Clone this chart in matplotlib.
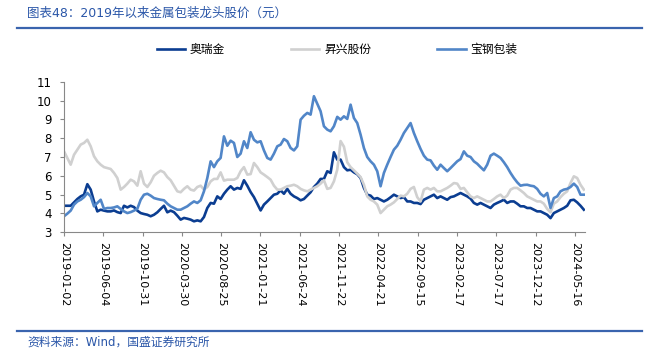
import matplotlib
matplotlib.use('Agg')
import matplotlib.pyplot as plt
import numpy as np

plt.rcParams['font.family'] = ['DejaVu Sans', 'Noto Sans CJK SC']

# share prices (yuan), sampled roughly every 8-9 trading days from 2019-01-02
aoruijin = [
    4.40, 4.40, 4.40, 4.58, 4.76, 4.90, 4.99, 5.55, 5.26, 4.63,
    4.10, 4.19, 4.14, 4.10, 4.10, 4.15, 4.06, 4.01, 4.40, 4.31,
    4.40, 4.33, 4.14, 4.01, 3.96, 3.92, 3.84, 3.92, 4.05, 4.23,
    4.40, 4.05, 4.14, 4.06, 3.87, 3.66, 3.75, 3.71, 3.66, 3.57,
    3.62, 3.57, 3.80, 4.28, 4.55, 4.51, 4.90, 4.76, 5.04, 5.26,
    5.44, 5.26, 5.35, 5.30, 5.76, 5.47, 5.13, 4.86, 4.51, 4.15,
    4.46, 4.63, 4.81, 4.99, 5.04, 5.22, 5.04, 5.30, 5.04, 4.90,
    4.81, 4.69, 4.76, 4.94, 5.12, 5.40, 5.58, 5.83, 5.83,
    6.24, 6.15, 7.25, 6.86, 6.86, 6.46, 6.29, 6.32, 6.18, 6.08,
    5.88, 5.35, 4.99, 4.94, 4.76, 4.81, 4.72, 4.63, 4.72, 4.85,
    4.99, 4.90, 4.81, 4.86, 4.63, 4.63, 4.55, 4.55, 4.49, 4.72,
    4.81, 4.90, 4.99, 4.81, 4.90, 4.81, 4.72, 4.86, 4.90,
    4.99, 5.08, 4.99, 4.90, 4.78, 4.55, 4.46, 4.55, 4.46, 4.37,
    4.28, 4.46, 4.55, 4.63, 4.72, 4.55, 4.63, 4.63, 4.51, 4.37,
    4.37, 4.28, 4.28, 4.19, 4.10, 4.10, 4.01, 3.92, 3.74, 4.01,
    4.10, 4.19, 4.28, 4.40, 4.69, 4.72, 4.58, 4.40, 4.19,
]
shengxing = [
    7.30, 6.95, 6.59, 7.12, 7.39, 7.66, 7.75, 7.92, 7.57, 7.04,
    6.77, 6.59, 6.46, 6.41, 6.36, 6.15, 5.88, 5.26, 5.40, 5.58,
    5.79, 5.70, 5.47, 6.24, 5.58, 5.40, 5.65, 6.00, 6.15, 6.27,
    6.18, 5.93, 5.76, 5.47, 5.17, 5.12, 5.30, 5.44, 5.26, 5.21,
    5.40, 5.47, 5.26, 5.40, 5.70, 5.83, 5.83, 6.18, 5.74, 5.79,
    5.79, 5.79, 5.88, 6.24, 6.46, 6.06, 6.09, 6.68, 6.46, 6.18,
    6.06, 5.93, 5.79, 5.47, 5.26, 5.26, 5.35, 5.44, 5.47, 5.52,
    5.44, 5.30, 5.22, 5.17, 5.26, 5.35, 5.44, 5.58, 5.76,
    5.30, 5.35, 5.70, 6.32, 7.85, 7.55, 6.72, 6.46, 6.29, 6.11,
    5.93, 5.52, 4.90, 4.72, 4.63, 4.46, 4.01, 4.19, 4.37, 4.46,
    4.58, 4.76, 4.94, 4.90, 5.04, 5.30, 5.40, 4.86, 4.63, 5.26,
    5.35, 5.26, 5.35, 5.17, 5.17, 5.26, 5.35, 5.47, 5.61,
    5.58, 5.30, 5.35, 5.12, 4.90, 4.81, 4.90, 4.81, 4.72, 4.63,
    4.63, 4.76, 4.90, 4.99, 4.81, 4.94, 5.26, 5.35, 5.35, 5.22,
    5.08, 4.90, 4.81, 4.72, 4.63, 4.63, 4.51, 4.23, 4.05, 4.51,
    4.63, 4.86, 5.04, 5.17, 5.61, 5.97, 5.88, 5.52, 5.26,
]
baogang = [
    3.84, 3.98, 4.14, 4.46, 4.63, 4.72, 4.86, 5.08, 4.90, 4.37,
    4.55, 4.72, 4.23, 4.28, 4.28, 4.31, 4.37, 4.23, 4.10, 4.01,
    4.06, 4.14, 4.24, 4.72, 4.99, 5.04, 4.94, 4.81, 4.76, 4.72,
    4.69, 4.51, 4.37, 4.28, 4.19, 4.19, 4.28, 4.37, 4.51, 4.63,
    4.55, 4.69, 5.17, 5.88, 6.77, 6.46, 6.77, 6.95, 8.10, 7.60,
    7.87, 7.75, 7.00, 7.18, 7.84, 7.48, 8.32, 7.92, 7.78, 7.84,
    7.35, 6.95, 6.86, 7.18, 7.57, 7.66, 7.96, 7.84, 7.48, 7.35,
    7.57, 8.99, 9.20, 9.35, 9.26, 10.24, 9.84, 9.44, 8.64,
    8.46, 8.37, 8.64, 9.14, 8.99, 9.17, 9.03, 9.79, 9.08, 8.81,
    8.19, 7.48, 7.00, 6.77, 6.59, 6.24, 5.44, 6.15, 6.59, 7.00,
    7.39, 7.60, 7.92, 8.28, 8.55, 8.81, 8.28, 7.84, 7.43, 7.07,
    6.86, 6.82, 6.54, 6.32, 6.59, 6.41, 6.24, 6.41, 6.59,
    6.77, 6.89, 7.30, 7.07, 7.00, 6.77, 6.64, 6.46, 6.29, 6.59,
    7.07, 7.18, 7.07, 6.95, 6.72, 6.46, 6.15, 5.88, 5.65, 5.47,
    5.51, 5.52, 5.47, 5.44, 5.30, 5.04, 4.90, 5.08, 4.28, 4.81,
    4.90, 5.17, 5.26, 5.30, 5.40, 5.58, 5.40, 4.99, 4.99,
]

date_labels = ['2019-01-02', '2019-06-04', '2019-10-31', '2020-03-30',
               '2020-08-25', '2021-01-21', '2021-06-24', '2021-11-22',
               '2022-04-21', '2022-09-15', '2023-02-17', '2023-07-17',
               '2023-12-12', '2024-05-16']
names = ['奥瑞金', '昇兴股份', '宝钢包装']
colors = ['#0b3d91', '#d0d0d0', '#5186c8']

# trading-day index, labels every 100 trading days
x = np.linspace(0, 1323, len(aoruijin))

fig = plt.figure(figsize=(6.48, 3.56), dpi=100)
ax = fig.add_axes([0.0988, 0.3483, 0.8040, 0.4214])

for series, name, color in zip([aoruijin, shengxing, baogang], names, colors):
    ax.plot(x, series, color=color, linewidth=1.9, label=name)

ax.set_xlim(0, 1326)
ax.set_ylim(3, 11)
ax.set_yticks(range(3, 12))
ax.set_xticks(np.arange(len(date_labels)) * 100)
ax.set_xticklabels(date_labels, rotation=-90, fontsize=8)
ax.tick_params(axis='y', labelsize=8.5, length=3, color='#888888', pad=6)
ax.tick_params(axis='x', length=3, color='#888888', pad=4)
for side in ['top', 'right']:
    ax.spines[side].set_visible(False)
for side in ['left', 'bottom']:
    ax.spines[side].set_color('#888888')
    ax.spines[side].set_linewidth(0.8)

fig.legend(loc='center', bbox_to_anchor=(0.52, 0.86), ncol=3, frameon=False,
           fontsize=8.5, handlelength=2.4, handletextpad=0.4, columnspacing=5.6)

blue = '#2a56a8'
fig.text(0.042, 0.963, '图表48：2019年以来金属包装龙头股价（元）', color=blue,
         fontsize=9, va='center', ha='left')
fig.add_artist(plt.Line2D([0.026, 0.99], [0.921, 0.921], color='#3a64ae', linewidth=1.6))
fig.add_artist(plt.Line2D([0.026, 0.99], [0.070, 0.070], color='#3a64ae', linewidth=1.6))
fig.text(0.042, 0.040, '资料来源：Wind，国盛证券研究所', color=blue,
         fontsize=8.5, va='center', ha='left')

fig.savefig('out.png', dpi=100)
